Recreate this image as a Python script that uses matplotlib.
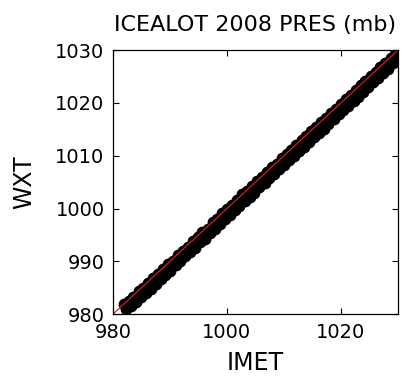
import matplotlib
matplotlib.use("Agg")
import matplotlib.pyplot as plt

# IMET vs WXT pressure (mb) in the original plot
imet = [982.0, 982.3, 982.8, 983.2, 983.6, 984.0, 984.5, 984.9, 985.3, 985.8,
        986.2, 986.6, 987.1, 987.5, 987.9, 988.4, 988.8, 989.2, 989.7, 990.1,
        990.5, 991.0, 991.4, 991.8, 992.3, 992.7, 993.1, 993.6, 994.0, 994.4,
        994.9, 995.3, 995.7, 996.2, 996.6, 997.0, 997.5, 997.9, 998.3, 998.8,
        999.2, 999.6, 1000.1, 1000.5, 1000.9, 1001.4, 1001.8, 1002.2, 1002.7, 1003.1,
        1003.5, 1004.0, 1004.4, 1004.8, 1005.3, 1005.7, 1006.1, 1006.6, 1007.0, 1007.4,
        1007.9, 1008.3, 1008.7, 1009.2, 1009.6, 1010.0, 1010.5, 1010.9, 1011.3, 1011.8,
        1012.2, 1012.6, 1013.1, 1013.5, 1013.9, 1014.4, 1014.8, 1015.2, 1015.7, 1016.1,
        1016.5, 1017.0, 1017.4, 1017.8, 1018.3, 1018.7, 1019.1, 1019.6, 1020.0, 1020.4,
        1020.9, 1021.3, 1021.7, 1022.2, 1022.6, 1023.0, 1023.5, 1023.9, 1024.3, 1024.8,
        1025.2, 1025.6, 1026.1, 1026.5, 1026.9, 1027.4, 1027.8, 1028.2, 1028.7, 1029.1,
        1029.5]
wxt = [981.9, 980.9, 982.5, 981.5, 983.2, 982.4, 984.3, 983.3, 984.9, 984.1,
       985.9, 984.8, 986.8, 985.7, 987.6, 986.7, 988.5, 987.5, 989.5, 988.2,
       990.1, 989.3, 991.2, 990.0, 992.0, 991.0, 992.8, 991.8, 993.8, 992.5,
       994.7, 993.6, 995.6, 994.3, 996.2, 995.4, 997.4, 996.2, 998.1, 997.0,
       999.1, 998.1, 1000.0, 998.7, 1000.7, 999.7, 1001.7, 1000.5, 1002.7, 1001.5,
       1003.4, 1002.2, 1004.3, 1003.0, 1005.2, 1004.1, 1005.9, 1004.8, 1006.9, 1005.8,
       1007.8, 1006.5, 1008.5, 1007.4, 1009.5, 1008.2, 1010.3, 1009.1, 1011.1, 1010.0,
       1012.0, 1010.8, 1012.9, 1011.7, 1013.7, 1012.6, 1014.6, 1013.5, 1015.4, 1014.3,
       1016.3, 1015.1, 1017.2, 1016.0, 1018.1, 1016.9, 1018.9, 1017.8, 1019.8, 1018.6,
       1020.7, 1019.5, 1021.5, 1020.4, 1022.4, 1021.2, 1023.3, 1022.1, 1024.1, 1023.0,
       1025.0, 1023.9, 1025.9, 1024.7, 1026.8, 1025.7, 1027.6, 1026.5, 1028.5, 1027.6,
       1029.2]

lims = [980, 1030]
xticks = [980, 1000, 1020]
yticks = [980, 990, 1000, 1010, 1020, 1030]

plt.rcParams['font.family'] = ['DejaVu Sans']

fig = plt.figure(figsize=(4.12, 3.79), dpi=100)
ax = fig.add_axes([0.274, 0.171, 0.692, 0.697])

ax.plot(imet, wxt, 'o', color='black', markersize=8.5, markeredgewidth=0)
ax.plot(lims, lims, color='#d02020', linewidth=0.9)

ax.set_xlim(lims)
ax.set_ylim(lims)
ax.set_xticks(xticks)
ax.set_yticks(yticks)
ax.tick_params(direction='in', top=True, right=True, labelsize=14,
               length=4, width=0.8, pad=6)
for s in ax.spines.values():
    s.set_linewidth(0.9)

ax.set_title('ICEALOT 2008 PRES (mb)', fontsize=16, pad=14)
ax.set_xlabel('IMET', fontsize=17, labelpad=7)
ax.set_ylabel('WXT', fontsize=17, labelpad=14)

fig.savefig('out.png', dpi=100)
